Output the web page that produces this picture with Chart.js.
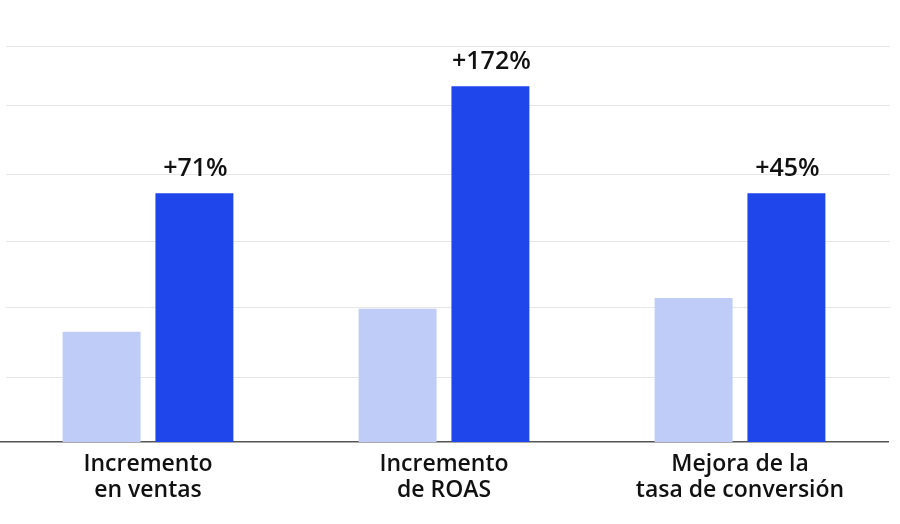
<!DOCTYPE html>
<html>
<head>
    <meta charset="utf-8">
    <title>Resultados</title>
    <style>
        html, body { margin: 0; padding: 0; background: #fff; }
        .chart-box { width: 900px; height: 524px; position: relative; }
    </style>
</head>
<body>
    <div class="chart-box">
        <canvas id="bar-chart"></canvas>
    </div>

    <script src="https://cdn.jsdelivr.net/npm/chart.js@4.4.0/dist/chart.umd.min.js"></script>
    <script>
        // Datos (escala relativa, sin eje visible)
        var categorias = [['Incremento', 'en ventas'], ['Incremento', 'de ROAS'], ['Mejora de la', 'tasa de conversión']];
        var valoresAntes = [1.67, 2.02, 2.18];
        var valoresDespues = [3.77, 5.39, 3.77];
        var etiquetasMejora = ['+71%', '+172%', '+45%'];
        // las líneas de la imagen no están del todo equiespaciadas
        var ticksY = [0, 0.98, 2.05, 3.05, 4.06, 5.11, 6];

        var fuente = "'Open Sans', 'Noto Sans', sans-serif";

        // Líneas de la cuadrícula (empiezan un poco a la derecha del borde)
        var cuadricula = {
            id: 'cuadricula',
            beforeDatasetsDraw: function (chart) {
                var ctx = chart.ctx;
                var y = chart.scales.y;
                ctx.save();
                ctx.strokeStyle = '#e6e6e6';
                ctx.lineWidth = 1;
                ticksY.forEach(function (v) {
                    if (v === 0) return;
                    var py = Math.round(y.getPixelForValue(v)) + 0.5;
                    ctx.beginPath();
                    ctx.moveTo(6, py);
                    ctx.lineTo(890, py);
                    ctx.stroke();
                });
                ctx.restore();
            }
        };

        // Etiquetas de porcentaje encima de las barras oscuras
        var etiquetas = {
            id: 'etiquetas',
            afterDatasetsDraw: function (chart) {
                var ctx = chart.ctx;
                var meta = chart.getDatasetMeta(1);
                ctx.save();
                ctx.font = '600 25px ' + fuente;
                ctx.fillStyle = '#111';
                ctx.textAlign = 'center';
                ctx.textBaseline = 'alphabetic';
                meta.data.forEach(function (bar, i) {
                    ctx.fillText(etiquetasMejora[i], bar.x + 1, bar.y - 17);
                });
                ctx.restore();
            }
        };

        new Chart(document.getElementById('bar-chart'), {
            type: 'bar',
            data: {
                labels: categorias,
                datasets: [{
                    label: 'Antes',
                    data: valoresAntes,
                    backgroundColor: '#bfccf8',
                    barPercentage: 0.84,
                    categoryPercentage: 0.627
                }, {
                    label: 'Después',
                    data: valoresDespues,
                    backgroundColor: '#1e46eb',
                    barPercentage: 0.84,
                    categoryPercentage: 0.627
                }]
            },
            options: {
                responsive: true,
                maintainAspectRatio: false,
                animation: false,
                layout: { padding: { top: 46, left: 0, right: 12, bottom: 0 } },
                plugins: {
                    legend: { display: false },
                    tooltip: { enabled: false }
                },
                scales: {
                    x: {
                        grid: { display: false, drawTicks: false },
                        border: { display: true, color: '#555', width: 1.5 },
                        ticks: {
                            color: '#111',
                            padding: 9,
                            maxRotation: 0,
                            font: { family: fuente, size: 23, weight: '600', lineHeight: 1.13 }
                        },
                        afterFit: function (s) { s.height = 82; }
                    },
                    y: {
                        min: 0,
                        max: 6,
                        ticks: { display: false, stepSize: 1 },
                        grid: { display: false, drawTicks: false },
                        border: { display: false },
                        afterFit: function (s) { s.width = 0; }
                    }
                }
            },
            plugins: [cuadricula, etiquetas]
        });
    </script>
</body>
</html>
